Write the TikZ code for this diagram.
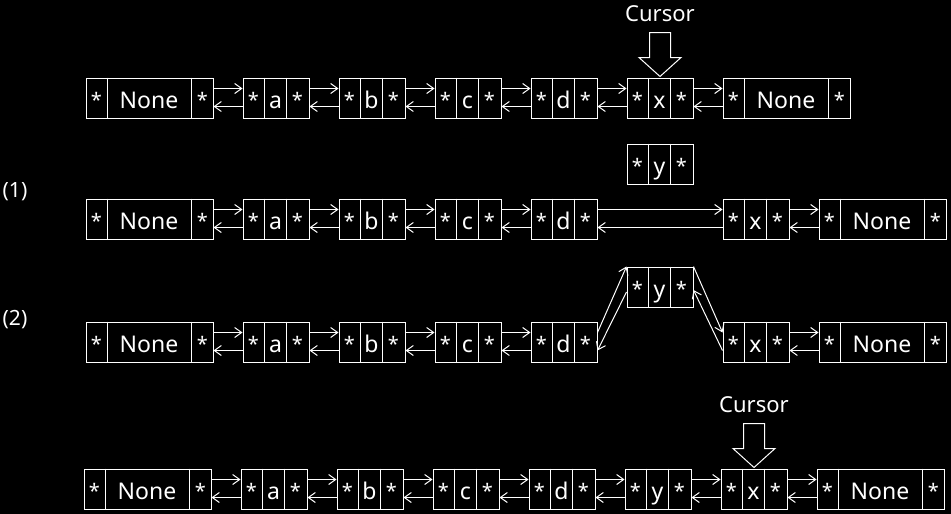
\documentclass[tikz,border=0pt]{standalone}
\usepackage{fontspec}
\setmainfont{Noto Sans}
\usetikzlibrary{arrows.meta}
\tikzset{
  box/.style={draw=white, line width=1pt, minimum height=40pt, inner sep=0pt, fill=black},
  cellline/.style={draw=white, line width=1pt},
  txt/.style={text=white, font=\fontsize{23pt}{23pt}\selectfont, inner sep=0pt, anchor=base},
  startxt/.style={text=white, font=\fontsize{20pt}{20pt}\selectfont, inner sep=0pt, anchor=base},
  arr/.style={draw=white, line width=1pt, -{Straight Barb[length=7pt,width=10pt,line width=1pt]}},
  lbl/.style={text=white, font=\fontsize{21pt}{21pt}\selectfont, inner sep=0pt},
  curlbl/.style={text=white, font=\fontsize{22pt}{22pt}\selectfont, inner sep=0pt},
  blockarrow/.style={draw=white, line width=1pt, line join=miter}
}
% small node: name, left x, mid y, label
\newcommand\smallnode[4]{%
  \node[box, minimum width=66pt] (#1) at (#2+33,#3) {};
  \draw[cellline] ([xshift=22pt]#1.north west) -- ([xshift=22pt]#1.south west);
  \draw[cellline] ([xshift=44pt]#1.north west) -- ([xshift=44pt]#1.south west);
  \node[startxt] (#1-p) at ([xshift=11pt,yshift=11pt]#1.south west) {*};
  \node[txt] (#1-v) at ([xshift=33pt,yshift=10pt]#1.south west) {#4};
  \node[startxt] (#1-n) at ([xshift=55pt,yshift=11pt]#1.south west) {*};
}
% None node: name, left x, mid y
\newcommand\nonenode[3]{%
  \node[box, minimum width=127pt] (#1) at (#2+63.5,#3) {};
  \draw[cellline] ([xshift=22pt]#1.north west) -- ([xshift=22pt]#1.south west);
  \draw[cellline] ([xshift=-22pt]#1.north east) -- ([xshift=-22pt]#1.south east);
  \node[startxt] (#1-p) at ([xshift=11pt,yshift=11pt]#1.south west) {*};
  \node[txt] (#1-v) at ([xshift=63.5pt,yshift=10pt]#1.south west) {None};
  \node[startxt] (#1-n) at ([xshift=-11pt,yshift=11pt]#1.south east) {*};
}
\newcommand\dlink[2]{%
  \draw[arr] ([yshift=9.5pt]#1.east) -- ([yshift=9.5pt]#2.west);
  \draw[arr] ([yshift=-8.5pt]#2.west) -- ([yshift=-8.5pt]#1.east);
}
\newcommand\cursormark[2]{%
  \begin{scope}[shift={(#1.north)}]
    \coordinate (#2-tip) at (0,-1);
    \draw[blockarrow] (#2-tip) -- (-21,-20) -- (-10.5,-20) -- (-10.5,-45) -- (10.5,-45) -- (10.5,-20) -- (21,-20) -- cycle;
    \node[curlbl] (#2) at (0,-64) {Cursor};
  \end{scope}
}
\begin{document}
\begin{tikzpicture}[x=1pt,y=-1pt]
\fill[black] (0,0) rectangle (951,514);
\useasboundingbox (0,0) rectangle (951,514);

% ---------- Row 1 ----------
\nonenode{r1n0}{86}{98}
\smallnode{r1a}{243}{98}{a}
\smallnode{r1b}{339}{98}{b}
\smallnode{r1c}{435}{98}{c}
\smallnode{r1d}{531}{98}{d}
\smallnode{r1x}{627}{98}{x}
\nonenode{r1n1}{723}{98}
\dlink{r1n0}{r1a}
\dlink{r1a}{r1b}
\dlink{r1b}{r1c}
\dlink{r1c}{r1d}
\dlink{r1d}{r1x}
\dlink{r1x}{r1n1}
\cursormark{r1x}{cur1}

% ---------- Row 2 (1) ----------
\node[lbl] (lab1) at (15,192) {(1)};
\smallnode{r2y}{627}{164}{y}
\nonenode{r2n0}{86}{219}
\smallnode{r2a}{243}{219}{a}
\smallnode{r2b}{339}{219}{b}
\smallnode{r2c}{435}{219}{c}
\smallnode{r2d}{531}{219}{d}
\smallnode{r2x}{723}{219}{x}
\nonenode{r2n1}{819}{219}
\dlink{r2n0}{r2a}
\dlink{r2a}{r2b}
\dlink{r2b}{r2c}
\dlink{r2c}{r2d}
\dlink{r2d}{r2x}
\dlink{r2x}{r2n1}

% ---------- Row 3 (2) ----------
\node[lbl] (lab2) at (15,320) {(2)};
\smallnode{r3y}{627}{287}{y}
\nonenode{r3n0}{86}{342}
\smallnode{r3a}{243}{342}{a}
\smallnode{r3b}{339}{342}{b}
\smallnode{r3c}{435}{342}{c}
\smallnode{r3d}{531}{342}{d}
\smallnode{r3x}{723}{342}{x}
\nonenode{r3n1}{819}{342}
\dlink{r3n0}{r3a}
\dlink{r3a}{r3b}
\dlink{r3b}{r3c}
\dlink{r3c}{r3d}
\dlink{r3x}{r3n1}
\draw[arr] ([yshift=9.5pt]r3d.east) -- (r3y.north west);
\draw[arr] ([yshift=-5pt]r3y.west) -- ([yshift=-8.5pt]r3d.east);
\draw[arr] (r3y.north east) -- ([yshift=9.5pt]r3x.west);
\draw[arr] ([yshift=-8.5pt]r3x.west) -- ([yshift=-3pt]r3y.east);

% ---------- Row 4 ----------
\nonenode{r4n0}{84}{489}
\smallnode{r4a}{241}{489}{a}
\smallnode{r4b}{337}{489}{b}
\smallnode{r4c}{433}{489}{c}
\smallnode{r4d}{529}{489}{d}
\smallnode{r4y}{625}{489}{y}
\smallnode{r4x}{721}{489}{x}
\nonenode{r4n1}{817}{489}
\dlink{r4n0}{r4a}
\dlink{r4a}{r4b}
\dlink{r4b}{r4c}
\dlink{r4c}{r4d}
\dlink{r4d}{r4y}
\dlink{r4y}{r4x}
\dlink{r4x}{r4n1}
\cursormark{r4x}{cur4}
\end{tikzpicture}
\end{document}
